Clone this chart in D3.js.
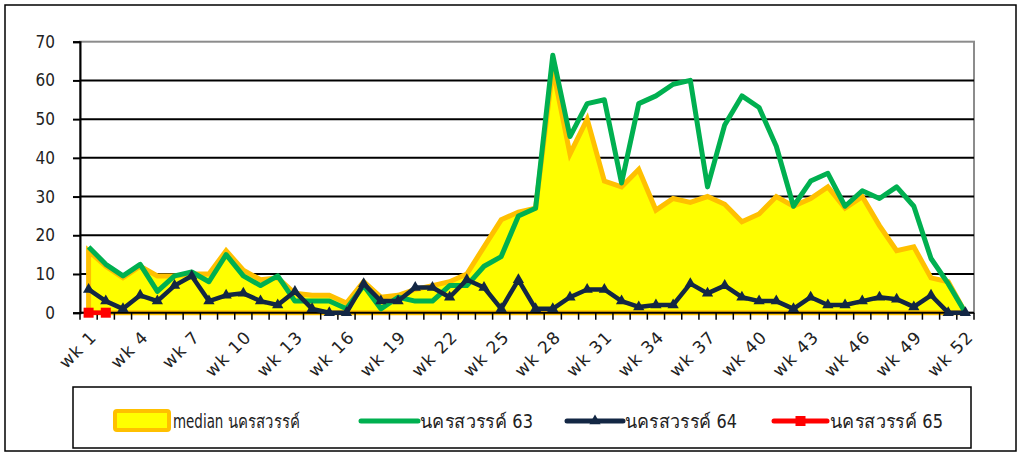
<!DOCTYPE html>
<html>
<head>
<meta charset="utf-8">
<script src="https://cdn.jsdelivr.net/npm/d3@7"></script>
<style>
  html, body { margin: 0; padding: 0; background: #fff; }
  svg { display: block; }
  text { font-family: "DejaVu Sans Condensed", "DejaVu Sans", sans-serif; }
</style>
</head>
<body>
<svg id="chart" width="1022" height="457"></svg>
<script>
const weeks = d3.range(1, 53).map(i => "wk " + i);
const median = [16,12,9,12,9.5,9.5,10,10,16,11,8.5,9,5,4.5,4.5,2.5,8,4,4.5,6,7,8,10,17,24,26,27,63,41,50,34,32.5,37,26.5,29.5,28.5,30,28,23.5,25.5,30,27.5,29.5,32.5,27,30,22.5,16,17,9,8,0];
const y63 = [17,12.5,9.5,12.5,5.5,9.5,10.5,8,15,9.5,7,9.5,3,3,3,1,7,1,4,3,3,7,7,12,14.5,25,27,66.5,45.5,54,55,33.5,54,56,59,60,32.5,48.5,56,53,43,27.5,34,36,27.5,31.5,29.5,32.5,27.5,14,7.5,0];
const y64 = [6,3,1,4.5,3,7,9.5,3,4.5,5,3,2,5.5,1,0,0,7.5,3,3,6.5,6.5,4,8.5,6.5,1,8.5,1,1,4,6,6,3,1.5,2,2,7.5,5,7,4,3,3,1,4,2,2,3,4,3.5,1.5,4.5,0,0];
const y65 = [0,0];
const yTicks = [0,10,20,30,40,50,60,70];
const xLabels = weeks.filter((d, i) => i % 3 === 0);
const seriesNames = ["median นครสวรรค์", "นครสวรรค์ 63", "นครสวรรค์ 64", "นครสวรรค์ 65"];

const svg = d3.select("#chart");
const L = 80, R = 974, T = 41.7, B = 312.7;

const x = d3.scaleBand().domain(weeks).range([L, R]).padding(0);
const y = d3.scaleLinear().domain([0, 70]).range([B, T]);
const cx = d => x(d) + x.bandwidth() / 2;

// outer border
svg.append("rect").attr("x", 5).attr("y", 5).attr("width", 1011).attr("height", 446)
  .attr("fill", "none").attr("stroke", "#000").attr("stroke-width", 1.5);

// plot border (gray)
svg.append("rect").attr("x", L).attr("y", T).attr("width", R - L).attr("height", B - T)
  .attr("fill", "none").attr("stroke", "#8c8c8c").attr("stroke-width", 2);

// gridlines
svg.append("g").selectAll("line").data(yTicks.filter(t => t > 0 && t < 70)).join("line")
  .attr("x1", L).attr("x2", R).attr("y1", d => y(d)).attr("y2", d => y(d))
  .attr("stroke", "#000").attr("stroke-width", 2);

// median area
const area = d3.area().x((d, i) => cx(weeks[i])).y0(y(0)).y1(d => y(d));
svg.append("path")
  .attr("d", area(median) + "Z")
  .attr("fill", "#ffff00").attr("stroke", "#ffc000").attr("stroke-width", 5)
  .attr("stroke-linejoin", "miter");

// y axis
const yAxis = d3.axisLeft(y).tickValues(yTicks).tickSize(7).tickFormat(d3.format("d"));
const gy = svg.append("g").attr("transform", `translate(${L},0)`).call(yAxis);
gy.select(".domain").attr("stroke", "#000").attr("stroke-width", 2);
gy.selectAll(".tick line").attr("stroke", "#000").attr("stroke-width", 2);
gy.selectAll(".tick text").attr("font-size", 17).attr("fill", "#222").attr("x", -25)
  .style("font-family", "'DejaVu Sans Condensed', 'DejaVu Sans', sans-serif");

// x axis ticks at band edges
const gx = svg.append("g");
gx.append("line").attr("x1", L).attr("x2", R).attr("y1", B).attr("y2", B)
  .attr("stroke", "#000").attr("stroke-width", 2);
gx.selectAll("line.tk").data(weeks.concat(["__end"])).join("line").attr("class", "tk")
  .attr("x1", d => d === "__end" ? R : x(d)).attr("x2", d => d === "__end" ? R : x(d))
  .attr("y1", B).attr("y2", B + 7).attr("stroke", "#000").attr("stroke-width", 1.5);
gx.selectAll("text").data(xLabels).join("text")
  .attr("transform", d => `translate(${cx(d) + 5},${B + 21}) rotate(-45)`)
  .attr("text-anchor", "end").attr("dy", "0.35em")
  .style("font-family", "'DejaVu Sans', sans-serif").style("letter-spacing", "1.2px")
  .attr("font-size", 17).attr("fill", "#222").text(d => d);

// lines
const line = d3.line().x((d, i) => cx(weeks[i])).y(d => y(d));
svg.append("path").datum(y63).attr("d", line).attr("fill", "none")
  .attr("stroke", "#00b050").attr("stroke-width", 5).attr("stroke-linejoin", "round");
svg.append("path").datum(y64).attr("d", line).attr("fill", "none")
  .attr("stroke", "#132744").attr("stroke-width", 4.5).attr("stroke-linejoin", "round");
const tri = d3.symbol().type(d3.symbolTriangle).size(55);
svg.append("g").selectAll("path").data(y64).join("path")
  .attr("transform", (d, i) => `translate(${cx(weeks[i])},${y(d)})`)
  .attr("d", tri).attr("fill", "#132744");
svg.append("path").datum(y65).attr("d", line).attr("fill", "none")
  .attr("stroke", "#ff0000").attr("stroke-width", 4.5);
svg.append("g").selectAll("rect").data(y65).join("rect")
  .attr("x", (d, i) => cx(weeks[i]) - 5).attr("y", d => y(d) - 5)
  .attr("width", 10).attr("height", 10).attr("fill", "#ff0000");

// legend
svg.append("rect").attr("x", 73).attr("y", 387).attr("width", 898).attr("height", 61)
  .attr("fill", "#fff").attr("stroke", "#000").attr("stroke-width", 1.5);
const lg = svg.append("g");
const ly = 421;
lg.append("rect").attr("x", 115).attr("y", ly - 10).attr("width", 54).attr("height", 19).attr("rx", 2)
  .attr("fill", "#ffff00").attr("stroke", "#ffc000").attr("stroke-width", 4);
const legendItems = [
  {x0: 361, x1: 418, color: "#00b050", marker: null},
  {x0: 567, x1: 623, color: "#132744", marker: "tri"},
  {x0: 774, x1: 827, color: "#ff0000", marker: "sq"}
];
legendItems.forEach(it => {
  lg.append("line").attr("x1", it.x0).attr("x2", it.x1).attr("y1", ly).attr("y2", ly)
    .attr("stroke", it.color).attr("stroke-width", 5).attr("stroke-linecap", "round");
  const mx = (it.x0 + it.x1) / 2;
  if (it.marker === "tri") lg.append("path").attr("transform", `translate(${mx},${ly})`).attr("d", tri).attr("fill", it.color);
  if (it.marker === "sq") lg.append("rect").attr("x", mx - 5).attr("y", ly - 5).attr("width", 10).attr("height", 10).attr("fill", it.color);
});
const txs = [173, 420, 625, 830];
const tlen = [127, 113, 112, 113];
lg.selectAll("text").data(seriesNames).join("text")
  .attr("x", (d, i) => txs[i]).attr("y", ly).attr("dy", "0.35em")
  .attr("textLength", (d, i) => tlen[i]).attr("lengthAdjust", "spacingAndGlyphs")
  .attr("font-size", 19).attr("fill", "#222").text(d => d);
</script>
</body>
</html>
